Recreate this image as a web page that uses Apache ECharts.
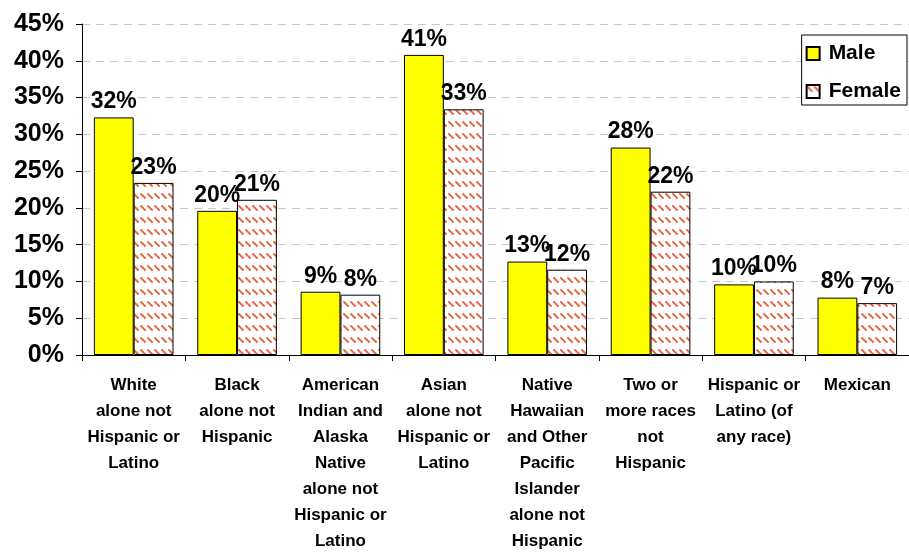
<!DOCTYPE html>
<html>
<head>
<meta charset="utf-8">
<script src="https://cdn.jsdelivr.net/npm/echarts@6/dist/echarts.min.js"></script>
<style>
  html, body { margin: 0; padding: 0; background: #fff; }
  #chart { width: 909px; height: 552px; }
</style>
</head>
<body>
<div id="chart"></div>
<script>
// data
const categories = [
  'White\nalone not\nHispanic or\nLatino',
  'Black\nalone not\nHispanic',
  'American\nIndian and\nAlaska\nNative\nalone not\nHispanic or\nLatino',
  'Asian\nalone not\nHispanic or\nLatino',
  'Native\nHawaiian\nand Other\nPacific\nIslander\nalone not\nHispanic',
  'Two or\nmore races\nnot\nHispanic',
  'Hispanic or\nLatino (of\nany race)',
  'Mexican'
];
const male = [32.3, 19.6, 8.6, 40.8, 12.7, 28.2, 9.6, 7.8];
const female = [23.4, 21.1, 8.2, 33.4, 11.6, 22.2, 10.0, 7.05];

const font = 'Liberation Sans, Arial, sans-serif';

// hatch pattern for the female bars
function hatch() {
  const c = document.createElement('canvas');
  c.width = 7;
  c.height = 12;
  const ctx = c.getContext('2d');
  ctx.fillStyle = '#ffffff';
  ctx.fillRect(0, 0, 7, 12);
  ctx.strokeStyle = '#e8643c';
  ctx.lineWidth = 1.8;
  ctx.lineCap = 'round';
  ctx.beginPath();
  ctx.moveTo(1, 2);
  ctx.lineTo(5, 6);
  ctx.stroke();
  return c;
}

const barLabel = {
  show: true,
  position: 'top',
  distance: 4,
  fontFamily: font,
  fontWeight: 'bold',
  fontSize: 23,
  color: '#000',
  formatter: (p) => Math.round(p.value) + '%'
};

const chart = echarts.init(document.getElementById('chart'));
chart.setOption({
  animation: false,
  grid: { left: 82, right: 0, top: 24, bottom: 197, outerBoundsMode: 'none' },
  legend: {
    orient: 'vertical',
    right: 2,
    top: 35,
    data: ['Male', 'Female'],
    backgroundColor: '#fff',
    borderColor: '#000',
    borderWidth: 1,
    borderRadius: 0,
    padding: [8, 6, 3, 4],
    itemWidth: 13,
    itemHeight: 13,
    itemGap: 17,
    icon: 'rect',
    textStyle: { fontFamily: font, fontWeight: 'bold', fontSize: 21, color: '#000', padding: [0, 0, 0, 4] }
  },
  xAxis: {
    type: 'category',
    data: categories,
    axisLine: { lineStyle: { color: '#000', width: 1 } },
    axisTick: { show: true, length: 6, lineStyle: { color: '#000' } },
    axisLabel: {
      interval: 0,
      margin: 17,
      fontFamily: font,
      fontWeight: 'bold',
      fontSize: 17,
      lineHeight: 26,
      color: '#000'
    }
  },
  yAxis: {
    type: 'value',
    min: 0,
    max: 45,
    interval: 5,
    axisLine: { show: true, lineStyle: { color: '#000', width: 1 } },
    axisTick: { show: true, length: 6, lineStyle: { color: '#000' } },
    axisLabel: {
      margin: 18,
      fontFamily: font,
      fontWeight: 'bold',
      fontSize: 25,
      color: '#000',
      formatter: '{value}%'
    },
    splitLine: { lineStyle: { color: '#c8c8c8', type: [8, 6] } }
  },
  series: [
    {
      name: 'Male',
      type: 'bar',
      data: male,
      barGap: '0%',
      barCategoryGap: '23%',
      itemStyle: { color: '#ffff00', borderColor: '#000', borderWidth: 1 },
      label: barLabel
    },
    {
      name: 'Female',
      type: 'bar',
      data: female,
      itemStyle: { color: { image: hatch(), repeat: 'repeat' }, borderColor: '#000', borderWidth: 1 },
      label: barLabel
    }
  ]
});
</script>
</body>
</html>
